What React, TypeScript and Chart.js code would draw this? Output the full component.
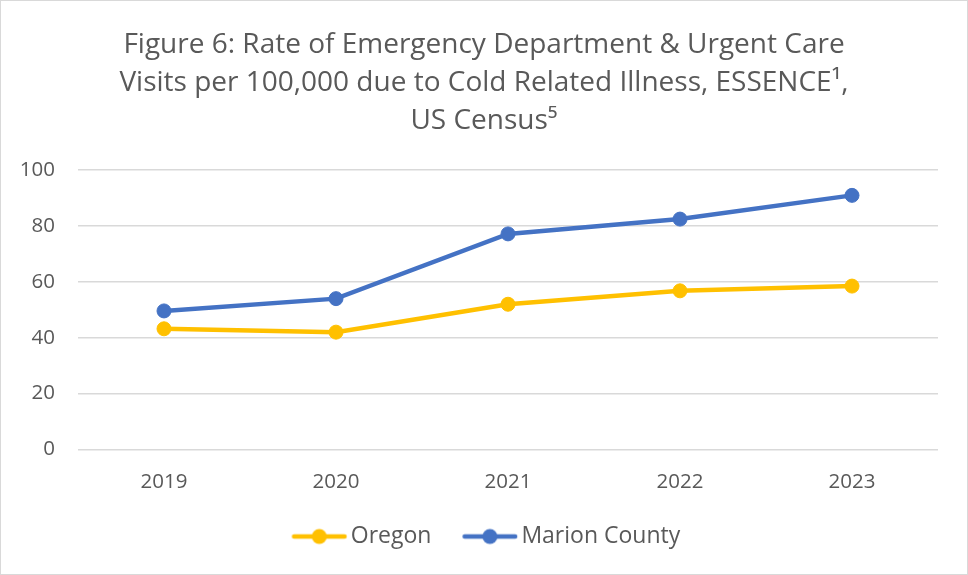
import React, { useEffect, useRef } from "react";
import { Chart, registerables } from "chart.js";

Chart.register(...registerables);

const categories = ["2019", "2020", "2021", "2022", "2023"];
const oregonValues = [43.2, 42.0, 52.0, 56.8, 58.5];
const marionValues = [49.6, 54.0, 77.2, 82.5, 91.0];
const yTicks = [0, 20, 40, 60, 80, 100];
const titleLines = [
  "Figure 6: Rate of Emergency Department & Urgent Care",
  "Visits per 100,000 due to Cold Related Illness, ESSENCE\u00B9,",
  "US Census\u2075",
];

const FONT = "'Open Sans', 'Noto Sans', sans-serif";
const TEXT = "#595959";
const ORANGE = "#FFC000";
const BLUE = "#4472C4";

function legendIcon(color: string): HTMLCanvasElement {
  const c = document.createElement("canvas");
  c.width = 70;
  c.height = 18;
  const ctx = c.getContext("2d")!;
  ctx.strokeStyle = color;
  ctx.lineWidth = 4.5;
  ctx.lineCap = "round";
  ctx.beginPath();
  ctx.moveTo(15.5, 9);
  ctx.lineTo(66, 9);
  ctx.stroke();
  ctx.fillStyle = color;
  ctx.beginPath();
  ctx.arc(40.75, 9, 7.5, 0, Math.PI * 2);
  ctx.fill();
  return c;
}

export default function App() {
  const ref = useRef<HTMLCanvasElement>(null);
  useEffect(() => {
    document.body.style.margin = "0";
    const icons = [legendIcon(ORANGE), legendIcon(BLUE)];
    const chart = new Chart(ref.current!, {
      type: "line",
      data: {
        labels: categories,
        datasets: [
          {
            label: "Oregon",
            data: oregonValues,
            borderColor: ORANGE,
            backgroundColor: ORANGE,
            borderWidth: 4.5,
            pointRadius: 7,
            pointBorderWidth: 1,
            pointBackgroundColor: ORANGE,
            pointBorderColor: ORANGE,
            tension: 0,
          },
          {
            label: "Marion County",
            data: marionValues,
            borderColor: BLUE,
            backgroundColor: BLUE,
            borderWidth: 4.5,
            pointRadius: 7,
            pointBorderWidth: 1,
            pointBackgroundColor: BLUE,
            pointBorderColor: BLUE,
            tension: 0,
          },
        ],
      },
      options: {
        animation: false,
        responsive: false,
        layout: { padding: { left: 0, right: 0, top: 25, bottom: 16 } },
        plugins: {
          title: {
            display: true,
            text: titleLines,
            color: TEXT,
            font: { family: FONT, size: 28, weight: "normal", lineHeight: 1.36 },
            padding: { top: 0, bottom: 30 },
          },
          legend: {
            position: "bottom",
            labels: {
              color: TEXT,
              font: { family: FONT, size: 23 },
              usePointStyle: true,
              pointStyleWidth: 51.5,
              padding: 27,
              generateLabels: (ch: any) =>
                ch.data.datasets.map((ds: any, i: number) => ({
                  text: ds.label,
                  fillStyle: ds.borderColor,
                  strokeStyle: ds.borderColor,
                  fontColor: TEXT,
                  lineWidth: 0,
                  pointStyle: icons[i],
                  hidden: false,
                  datasetIndex: i,
                })),
            },
          },
          tooltip: { enabled: false },
        },
        scales: {
          x: {
            offset: true,
            grid: { display: false },
            border: { display: false },
            ticks: { color: TEXT, font: { family: FONT, size: 20.5 }, padding: 12 },
            afterFit: (s: any) => {
              s.height = s.height - 8;
            },
          },
          y: {
            min: 0,
            max: 100,
            afterBuildTicks: (s: any) => {
              s.ticks = yTicks.map((v) => ({ value: v }));
            },
            afterFit: (s: any) => {
              s.width = 77;
            },
            grid: { color: "#D9D9D9", lineWidth: 1.5, drawTicks: false },
            border: { display: false },
            ticks: { color: TEXT, font: { family: FONT, size: 20.5 }, padding: 23 },
          },
          yRightSpace: {
            position: "right",
            display: true,
            grid: { display: false },
            border: { display: false },
            ticks: { display: false },
            afterFit: (s: any) => {
              s.width = 29;
            },
          },
        },
      },
    });
    return () => chart.destroy();
  }, []);
  return (
    <div
      style={{
        width: 968,
        height: 575,
        border: "1px solid #D9D9D9",
        boxSizing: "border-box",
        background: "#fff",
      }}
    >
      <canvas ref={ref} width={966} height={573} style={{ display: "block" }} />
    </div>
  );
}
